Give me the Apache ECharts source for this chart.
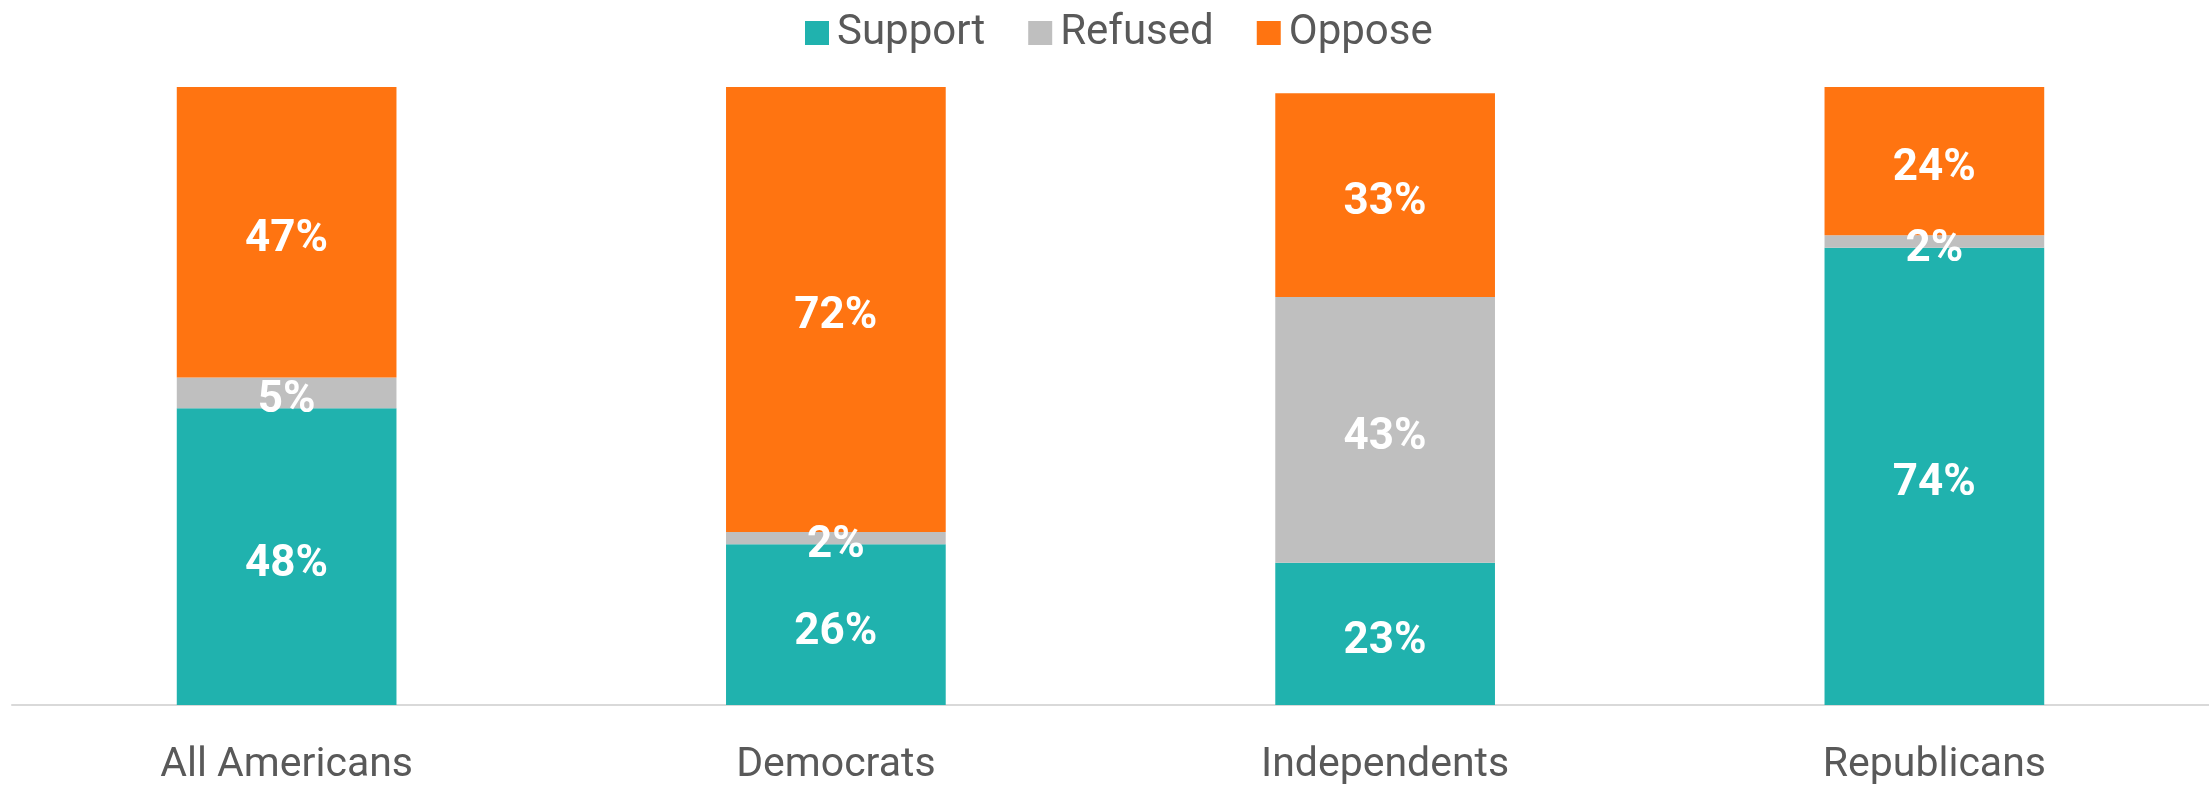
<!DOCTYPE html>
<html><head><meta charset="utf-8">
<script src="https://cdn.jsdelivr.net/npm/echarts@6/dist/echarts.min.js"></script>
<style>html,body{margin:0;padding:0;background:#fff}#c{width:2209px;height:786px}</style>
</head><body><div id="c"></div>
<script>
const categories = ['All Americans', 'Democrats', 'Independents', 'Republicans'];
const support = [48, 26, 23, 74];
const refused = [5, 2, 43, 2];
const oppose = [47, 72, 33, 24];
const seriesNames = ['Support', 'Refused', 'Oppose'];
const colors = ['#20B2AE', '#BFBFBF', '#FF7411'];

const chart = echarts.init(document.getElementById('c'));
const label = {
  show: true, position: 'inside', color: '#fff', fontFamily: 'Roboto',
  fontWeight: 'bold', fontSize: 44, offset: [0, 8], formatter: p => p.value + '%'
};
const mk = (name, data, i) => ({
  name, type: 'bar', stack: 'a', data, barWidth: '40%',
  itemStyle: { color: colors[i] }, label
});
chart.setOption({
  animation: false,
  color: colors,
  textStyle: { fontFamily: 'Roboto' },
  legend: {
    top: 7, left: 800, itemWidth: 24, itemHeight: 24, itemGap: 43,
    icon: 'rect',
    textStyle: { color: '#595959', fontSize: 42, fontFamily: 'Roboto', padding: [0, 0, 0, 3] },
    data: seriesNames
  },
  grid: { left: 12, right: 0, top: 87, bottom: 80 },
  xAxis: {
    type: 'category', data: categories,
    axisLine: { lineStyle: { color: '#D9D9D9', width: 2 } },
    axisTick: { show: false },
    axisLabel: { color: '#595959', fontSize: 41, fontFamily: 'Roboto', margin: 40 }
  },
  yAxis: { type: 'value', min: 0, max: 100, show: false, splitLine: { show: false } },
  series: [mk(seriesNames[0], support, 0), mk(seriesNames[1], refused, 1), mk(seriesNames[2], oppose, 2)]
});
</script></body></html>
